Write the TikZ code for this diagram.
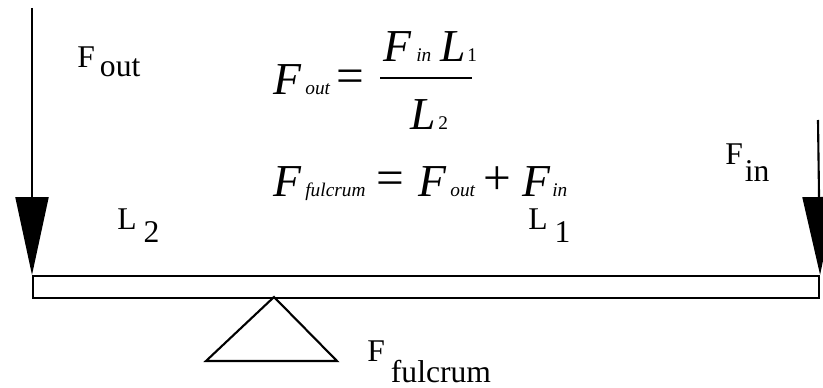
\documentclass[tikz,border=0pt]{standalone}
\usepackage{fontspec}
\setmainfont{Liberation Serif}
\usetikzlibrary{arrows.meta}

\tikzset{
  force/.style={line width=1.2pt, -{Triangle[length=1.56cm, width=0.66cm]}},
  lbl/.style={anchor=base west, inner sep=0pt, font=\fontsize{18}{20}\selectfont},
  big/.style={anchor=base west, inner sep=0pt, font=\fontsize{26}{28}\selectfont\itshape},
  sub/.style={anchor=base west, inner sep=0pt, font=\fontsize{11}{12}\selectfont\itshape},
  digit/.style={anchor=base west, inner sep=0pt, font=\fontsize{11}{12}\selectfont},
  op/.style={anchor=base west, inner sep=0pt, font=\fontsize{28}{30}\selectfont},
}

\begin{document}
\begin{tikzpicture}[x=0.02cm, y=-0.02cm]
\useasboundingbox (0,0) rectangle (823,388);

% lever, fulcrum and forces
\node[draw, line width=1.2pt, minimum width=786*0.02cm, minimum height=22*0.02cm,
  inner sep=0pt, anchor=north west] (beam) at (32,275) {};
\coordinate (pivot) at (274,297);
\draw[line width=1.2pt] (pivot) -- (206,361) -- (337,361) -- cycle;
\coordinate (outtop) at (32,8);
\coordinate (intop) at (818,120);
\draw[force] (outtop) -- (beam.north west);
\draw[force] (intop) -- (beam.north east);

% labels
\node[lbl] (fout) at (77,68) {F\hspace{0.1cm}\raisebox{-0.18cm}{out}};
\node[lbl] (ltwo) at (117,230) {L\hspace{0.14cm}\raisebox{-0.26cm}{2}};
\node[lbl] (lone) at (528,230) {L\hspace{0.14cm}\raisebox{-0.26cm}{1}};
\node[lbl] (fin) at (725,165) {F\hspace{0.04cm}\raisebox{-0.34cm}{in}};
\node[lbl] (ffulc) at (367,362) {F\hspace{0.12cm}\raisebox{-0.42cm}{fulcrum}};

% F_out = F_in L_1 / L_2
\node[big] (eqaF) at (273,95) {F};
\node[sub] (eqaout) at (305,95) {out};
\node[op] (eqaeq) at (336,93) {=};
\node[big] (numF) at (383,62) {F};
\node[sub] (numin) at (416,62) {in};
\node[big] (numL) at (440,62) {L};
\node[digit] (numone) at (467,62) {1};
\draw[line width=1.2pt] (380,78) -- (472,78);
\node[big] (denL) at (410,130) {L};
\node[digit] (dentwo) at (438,130) {2};

% F_fulcrum = F_out + F_in
\node[big] (eqbF) at (273,197) {F};
\node[sub] (eqbfulc) at (305,197) {fulcrum};
\node[op] (eqbeq) at (376,195) {=};
\node[big] (eqbFo) at (418,197) {F};
\node[sub] (eqbout) at (450,197) {out};
\node[op] (eqbplus) at (483,195) {+};
\node[big] (eqbFi) at (522,197) {F};
\node[sub] (eqbin) at (552,197) {in};
\end{tikzpicture}
\end{document}
